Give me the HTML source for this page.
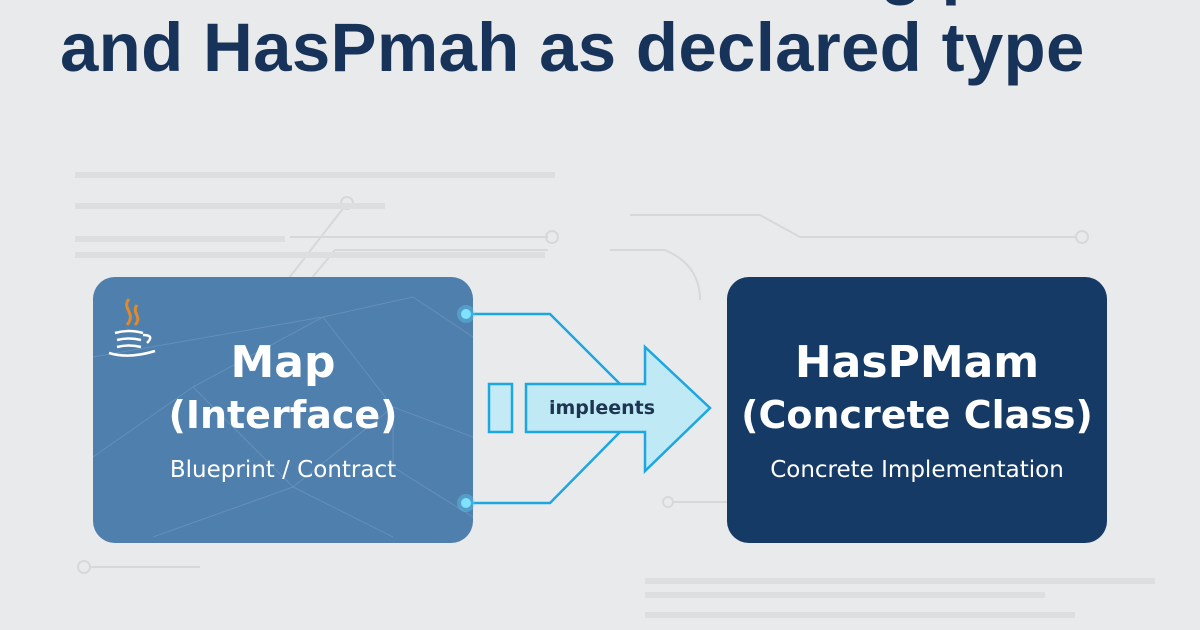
<!DOCTYPE html>
<html><head><meta charset="utf-8"><style>
html,body{margin:0;padding:0}
body{width:1200px;height:630px;background:#e9eaeb;position:relative;overflow:hidden;font-family:"Liberation Sans",sans-serif}
.t{position:absolute;font-weight:bold;color:#17335a;white-space:nowrap}
.box{position:absolute;top:277px;width:380px;height:266px;border-radius:22px;color:#fff;text-align:center;overflow:hidden}
.b1{left:93px;background:#4f7fad}
.b2{left:727px;background:#153a66}
.h{position:absolute;left:0;right:0;font-weight:bold;font-family:"DejaVu Sans",sans-serif}
.s{position:absolute;left:0;right:0;font-family:"DejaVu Sans",sans-serif;font-size:23px}
</style></head><body>
<svg width="1200" height="630" style="position:absolute;left:0;top:0" fill="none">
 <g stroke="#d6d8da" stroke-width="2">
  <path d="M275 296 L345 206"/><circle cx="347" cy="203" r="6"/>
  <path d="M297 296 L335 250 L548 250"/><circle cx="552" cy="237" r="6"/>
  <path d="M290 237 L548 237"/>
  <path d="M630 215 L760 215 L800 237 L1075 237"/><circle cx="1082" cy="237" r="6"/>
  <path d="M610 250 L665 250 Q700 265 700 300"/>
  <path d="M90 567 L200 567"/><circle cx="84" cy="567" r="6"/>
  <path d="M672 502 L727 502"/><circle cx="668" cy="502" r="5"/>
 </g>
 <g fill="#dcdee0">
  <rect x="75" y="172" width="480" height="6"/><rect x="75" y="203" width="310" height="6"/>
  <rect x="75" y="236" width="210" height="6"/><rect x="75" y="252" width="470" height="6"/>
  <rect x="645" y="578" width="510" height="6"/><rect x="645" y="592" width="400" height="6"/>
  <rect x="645" y="612" width="430" height="6"/>
 </g>
</svg>
<div class="t" style="left:880px;top:-72px;font-size:69px">g p</div>
<div class="t" style="left:60px;top:8px;font-size:69px;letter-spacing:0.3px">and HasPmah as declared type</div>

<div class="box b1">
 <svg width="380" height="266" style="position:absolute;left:0;top:0" fill="none" stroke="#7aa0c6" stroke-width="1" opacity="0.5">
  <path d="M0 80 L230 40 L320 20 L380 60 M100 110 L230 40 L300 130 L380 160 M0 180 L100 110 L200 210 L300 130 L300 190 L380 240 M200 210 L300 260 M60 260 L200 210"/>
 </svg>
 <div style="position:absolute;left:14px;top:18px;width:50px;height:70px">
  <svg width="50" height="70"><path d="M22 4 C14 14 30 18 20 30 M30 10 C24 18 36 22 28 30" stroke="#e08a2c" stroke-width="3" fill="none"/>
  <path d="M8 38 Q22 34 36 38 M10 45 Q22 42 34 45 M10 52 Q22 49 34 52 M36 40 Q48 40 40 48 M2 58 Q22 64 48 56" stroke="#fff" stroke-width="2.5" fill="none"/></svg>
 </div>
 <div class="h" style="top:60px;font-size:44px">Map</div>
 <div class="h" style="top:116px;font-size:38px">(Interface)</div>
 <div class="s" style="top:180px">Blueprint / Contract</div>
</div>
<div class="box b2">
 <div class="h" style="top:60px;font-size:44px">HasPMam</div>
 <div class="h" style="top:116px;font-size:38px">(Concrete Class)</div>
 <div class="s" style="top:180px">Concrete Implementation</div>
</div>

<svg width="1200" height="630" style="position:absolute;left:0;top:0">
 <g stroke="#1ca7e0" stroke-width="2.5" fill="none">
  <path d="M466 314 L550 314 L622 386"/>
  <path d="M466 503 L550 503 L622 430"/>
 </g>
 <circle cx="466" cy="314" r="9" fill="#5fd6ff" opacity="0.35"/><circle cx="466" cy="314" r="5" fill="#7fe3ff"/>
 <circle cx="466" cy="503" r="9" fill="#5fd6ff" opacity="0.35"/><circle cx="466" cy="503" r="5" fill="#7fe3ff"/>
 <rect x="489" y="384" width="23" height="48" fill="#c4ebf5" stroke="#1ca7e0" stroke-width="2.5"/>
 <path d="M526 384 L645 384 L645 347 L710 408 L645 471 L645 432 L526 432 Z" fill="#bfe9f5" stroke="#1ca7e0" stroke-width="2.5" stroke-linejoin="miter"/>
 <text x="602" y="414" text-anchor="middle" font-family="DejaVu Sans, sans-serif" font-size="19" font-weight="bold" fill="#1d3550">impleents</text>
</svg>
</body></html>
